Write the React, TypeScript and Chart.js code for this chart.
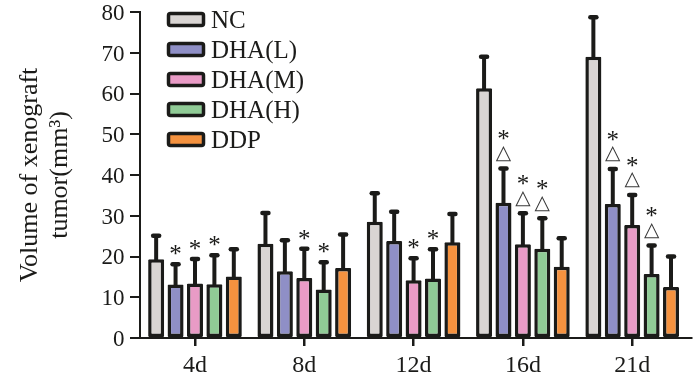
import React, { useEffect, useRef } from 'react';
import { Chart, registerables } from 'chart.js';

Chart.register(...registerables);

// ---------- data ----------
const categories = ['4d', '8d', '12d', '16d', '21d'];
const seriesNames = ['NC', 'DHA(L)', 'DHA(M)', 'DHA(H)', 'DDP'];

const ncValues = [19.3, 23.1, 28.5, 61.3, 69.0];
const ncSD = [5.8, 7.6, 7.0, 7.7, 9.7];
const dhaLValues = [13.1, 16.4, 23.8, 33.2, 32.9];
const dhaLSD = [5.0, 7.6, 7.2, 8.4, 8.6];
const dhaMValues = [13.4, 14.7, 14.2, 23.0, 27.7];
const dhaMSD = [6.0, 7.2, 5.4, 7.6, 7.4];
const dhaHValues = [13.2, 11.9, 14.6, 21.9, 15.7];
const dhaHSD = [7.1, 6.7, 7.2, 7.5, 7.0];
const ddpValues = [15.1, 17.2, 23.5, 17.5, 12.5];
const ddpSD = [6.7, 8.2, 6.9, 7.0, 7.5];

const ncMarks = ['', '', '', '', ''];
const dhaLMarks = ['*', '', '', '*△', '*△'];
const dhaMMarks = ['*', '*', '*', '*△', '*△'];
const dhaHMarks = ['*', '*', '*', '*△', '*△'];
const ddpMarks = ['', '', '', '', ''];

const yTickValues = [0, 10, 20, 30, 40, 50, 60, 70, 80];
const yTitleLines = ['Volume of xenograft', 'tumor(mm³)'];

// ---------- styles ----------
const INK = '#1b1b19';
const fills = ['#d9d5d3', '#8f8fc6', '#e99bc6', '#90cb96', '#f5923f'];
const SERIF = '"Liberation Serif", "Times New Roman", serif';

const valuesList = [ncValues, dhaLValues, dhaMValues, dhaHValues, ddpValues];
const sdList = [ncSD, dhaLSD, dhaMSD, dhaHSD, ddpSD];
const marksList = [ncMarks, dhaLMarks, dhaMMarks, dhaHMarks, ddpMarks];

function drawCentered(ctx: CanvasRenderingContext2D, text: string, x: number, cy: number) {
  const m = ctx.measureText(text);
  const off = (m.actualBoundingBoxAscent - m.actualBoundingBoxDescent) / 2;
  ctx.fillText(text, x, cy + off);
}

const overlayPlugin = {
  id: 'overlay',
  afterDatasetsDraw(chart: any) {
    const ctx: CanvasRenderingContext2D = chart.ctx;
    const yScale = chart.scales.y;
    chart.data.datasets.forEach((ds: any, di: number) => {
      const meta = chart.getDatasetMeta(di);
      meta.data.forEach((el: any, i: number) => {
        const v = ds.data[i];
        const sd = ds.sd[i];
        const top = yScale.getPixelForValue(v);
        const cap = yScale.getPixelForValue(v + sd);
        ctx.save();
        ctx.strokeStyle = INK;
        ctx.lineWidth = 4;
        ctx.beginPath();
        ctx.moveTo(el.x, top + 1);
        ctx.lineTo(el.x, cap);
        ctx.stroke();
        ctx.lineWidth = 4.5;
        ctx.lineCap = 'round';
        ctx.beginPath();
        ctx.moveTo(el.x - 3, cap);
        ctx.lineTo(el.x + 3, cap);
        ctx.stroke();

        const mk: string = ds.marks[i] || '';
        ctx.fillStyle = INK;
        ctx.textAlign = 'center';
        ctx.textBaseline = 'alphabetic';
        if (mk.includes('△')) {
          ctx.font = '20px "DejaVu Sans", sans-serif';
          ctx.fillStyle = '#3a3a3a';
          drawCentered(ctx, '△', el.x, cap - 15);
          ctx.fillStyle = INK;
          ctx.font = `25px ${SERIF}`;
          drawCentered(ctx, '*', el.x, cap - 33);
        } else if (mk.includes('*')) {
          ctx.font = `25px ${SERIF}`;
          drawCentered(ctx, '*', el.x, cap - 14);
        }
        ctx.restore();
      });
    });
  },
  afterDraw(chart: any) {
    const ctx: CanvasRenderingContext2D = chart.ctx;
    const xScale = chart.scales.x;
    const yScale = chart.scales.y;
    ctx.save();
    ctx.fillStyle = INK;

    // y tick labels
    ctx.font = `23px ${SERIF}`;
    ctx.textAlign = 'right';
    ctx.textBaseline = 'alphabetic';
    yTickValues.forEach((t) => {
      const py = yScale.getPixelForValue(t);
      ctx.fillText(String(t), 124.5, py + 7.8);
    });

    // x tick labels
    ctx.font = `24px ${SERIF}`;
    ctx.textAlign = 'center';
    categories.forEach((c, i) => {
      const px = xScale.getPixelForValue(i);
      ctx.fillText(c, px, 372);
    });

    // y title
    ctx.font = `26px ${SERIF}`;
    const cy = (chart.chartArea.top + chart.chartArea.bottom) / 2;
    [37, 67].forEach((bx, li) => {
      ctx.save();
      ctx.translate(bx, cy);
      ctx.rotate(-Math.PI / 2);
      ctx.textAlign = 'center';
      ctx.fillText(yTitleLines[li], 0, 0);
      ctx.restore();
    });

    // legend
    seriesNames.forEach((name, i) => {
      const c = 19.5 + i * 30;
      ctx.beginPath();
      (ctx as any).roundRect(168.5, c - 6, 35, 12, 2);
      ctx.fillStyle = fills[i];
      ctx.fill();
      ctx.lineWidth = 3.5;
      ctx.strokeStyle = INK;
      ctx.stroke();
      ctx.fillStyle = INK;
      ctx.font = `25px ${SERIF}`;
      ctx.textAlign = 'left';
      ctx.fillText(name, 211, c + 8.3);
    });
    ctx.restore();
  },
};

export default function App() {
  const ref = useRef<HTMLCanvasElement | null>(null);

  useEffect(() => {
    if (!ref.current) return;
    const datasets = seriesNames.map((name, i) => ({
      label: name,
      data: valuesList[i],
      sd: sdList[i],
      marks: marksList[i],
      backgroundColor: fills[i],
      borderColor: INK,
      borderWidth: 3.5,
      borderSkipped: false,
      borderRadius: 1,
      categoryPercentage: 0.888,
      barPercentage: 0.825,
    }));
    const chart = new Chart(ref.current, {
      type: 'bar',
      data: { labels: categories, datasets: datasets as any },
      options: {
        responsive: false,
        animation: false,
        events: [],
        layout: { padding: { left: 130, right: 9, top: 12, bottom: 38 } },
        plugins: { legend: { display: false }, tooltip: { enabled: false }, title: { display: false } },
        scales: {
          x: {
            type: 'category',
            offset: true,
            grid: { display: true, drawOnChartArea: false, offset: false, color: INK, lineWidth: 2.5, tickLength: 8 },
            border: { display: true, color: INK, width: 2 },
            ticks: { display: false },
            afterBuildTicks: (scale: any) => {
              scale._startValue = -0.503;
              scale._valueRange = 5.041;
            },
            afterFit: (scale: any) => {
              scale.height = 8;
            },
          },
          y: {
            min: 0,
            max: 80,
            ticks: { display: false, stepSize: 10 },
            grid: { display: true, drawOnChartArea: false, color: INK, lineWidth: 2, tickLength: 10 },
            border: { display: true, color: INK, width: 2 },
            afterFit: (scale: any) => {
              scale.width = 10;
            },
          },
        },
      } as any,
      plugins: [overlayPlugin],
    });
    return () => chart.destroy();
  }, []);

  return (
    <div style={{ position: 'fixed', left: 0, top: 0, width: 700, height: 384, background: '#fff' }}>
      <canvas ref={ref} width={700} height={384} style={{ display: 'block', width: 700, height: 384 }} />
    </div>
  );
}
